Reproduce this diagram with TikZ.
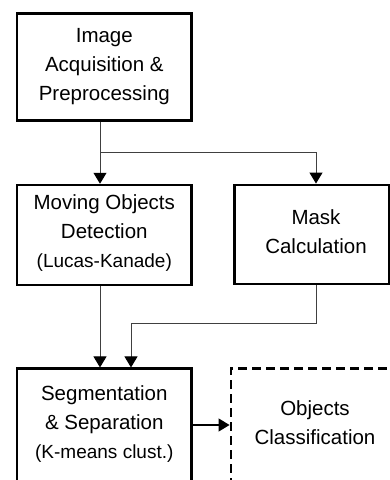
\documentclass[tikz,border=0pt]{standalone}
\usepackage{fontspec}
\setmainfont{Liberation Sans}
\usetikzlibrary{arrows.meta}
\tikzset{
  blockbox/.style={draw=black, line width=2.5pt, rectangle, inner sep=0pt, fill=white},
  dashbox/.style={draw=black, line width=2.5pt, rectangle, inner sep=0pt, dash pattern=on 9pt off 5pt},
  btext/.style={align=center, inner sep=0pt, font=\fontsize{20.5pt}{29pt}\selectfont},
  conn/.style={draw=black!75, line width=1pt},
  arr/.style={-{Triangle[width=13pt,length=11pt,color=black,fill=black]}}
}
\begin{document}
\begin{tikzpicture}[x=1pt,y=-1pt]
\useasboundingbox (0,0) rectangle (390,480);
\clip (0,0) rectangle (390,480);
\fill[white] (0,0) rectangle (390,480);
% boxes
\node[blockbox, minimum width=174.7pt, minimum height=107pt] (b1) at (104.3,66.8) {};
\node[btext] (t1) at (104.3,67) {Image\\Acquisition \&\\Preprocessing};
\node[blockbox, minimum width=174.7pt, minimum height=100pt] (b2) at (104.3,235) {};
\node[btext] (t2) at (104.3,233) {Moving Objects\\Detection\\{\fontsize{19pt}{29pt}\selectfont(Lucas-Kanade)}};
\node[blockbox, minimum width=154.5pt, minimum height=99pt] (b3) at (311.5,234.3) {};
\node[btext] (t3) at (316,232) {Mask\\Calculation};
\node[blockbox, minimum width=174.7pt, minimum height=160pt] (b4) at (104.3,448.7) {};
\node[btext] (t4) at (104.3,424) {Segmentation\\\& Separation\\{\fontsize{19pt}{29pt}\selectfont(K-means clust.)}};
\node[dashbox, minimum width=180pt, minimum height=160pt] (b5) at (320.8,448.3) {};
\node[btext] (t5) at (315,423) {Objects\\Classification};
% junctions
\coordinate (jA) at (100,152);
\coordinate (jB) at (316,152);
\coordinate (kA) at (316,323);
\coordinate (kB) at (131,323);
\coordinate (mA) at (100,300);
\coordinate (sA) at (193,425);
% connectors
\draw[conn, arr] (b1.south -| jA) -- (b2.north -| jA);
\draw[conn, arr] (jA) -- (jB) -- (b3.north -| jB);
\draw[conn, arr] (b2.south -| mA) -- (b4.north -| mA);
\draw[conn, arr] (b3.south -| kA) -- (kA) -- (kB) -- (b4.north -| kB);
\draw[draw=black, line width=1.3pt, arr] (b4.east |- sA) -- (b5.west |- sA);
\end{tikzpicture}
\end{document}
